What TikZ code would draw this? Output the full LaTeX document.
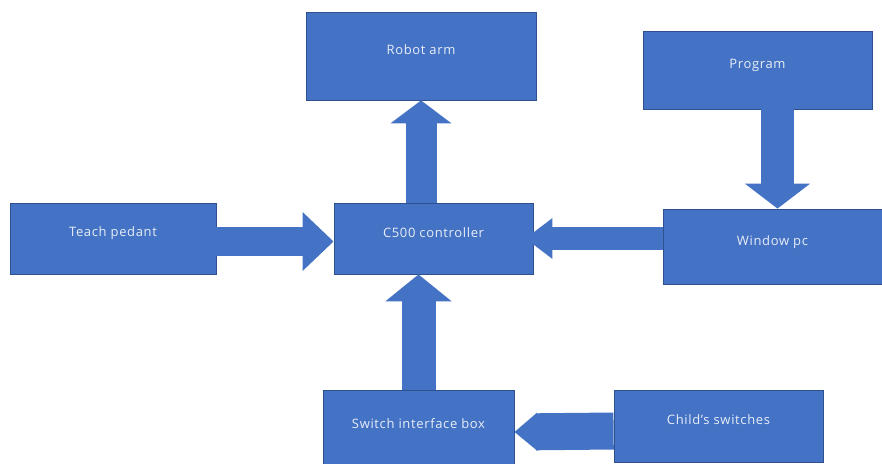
\documentclass[tikz,border=0pt]{standalone}
\usepackage{fontspec}
\setmainfont{Open Sans}[LetterSpace=5]
\usetikzlibrary{arrows.meta}
\definecolor{boxblue}{RGB}{68,114,196}
\definecolor{boxedge}{RGB}{47,82,143}
\definecolor{boxtext}{RGB}{232,238,248}
\tikzset{
    block/.style={draw=boxedge, line width=0.8pt, fill=boxblue, text=boxtext,
        font=\fontsize{13}{15}\selectfont, inner sep=0pt},
    flow/.style={boxblue, line width=#1}
}
\begin{document}
\begin{tikzpicture}[x=1pt,y=-1pt]
        \useasboundingbox (0,0) rectangle (882,463);
        % boxes
        \node [block, minimum width=230pt, minimum height=88pt] (arm) at (421,56) {};
        \node [block, minimum width=199pt, minimum height=71pt] (ctrl) at (433.5,238.5) {};
        \node [block, minimum width=229pt, minimum height=78pt] (prog) at (757.5,70) {};
        \node [block, minimum width=219pt, minimum height=75pt] (pc) at (772.5,246.5) {};
        \node [block, minimum width=206pt, minimum height=71pt] (teach) at (113,238.5) {};
        \node [block, minimum width=191pt, minimum height=74pt] (sib) at (418.5,427) {};
        \node [block, minimum width=209pt, minimum height=72pt] (child) at (718.5,426) {};
        % labels
        \node [block, draw=none] (armtxt) at (421,50) {Robot arm};
        \node [block, draw=none] (ctrltxt) at (433.5,233) {C500 controller};
        \node [block, draw=none] (progtxt) at (757.5,65) {Program};
        \node [block, draw=none] (pctxt) at (772.5,242) {Window pc};
        \node [block, draw=none] (teachtxt) at (113,233) {Teach pedant};
        \node [block, draw=none] (sibtxt) at (418.5,424) {Switch interface box};
        \node [block, draw=none] (childtxt) at (718.5,420) {Child’s switches};
        % block arrows
        \draw [flow=31pt, -{Triangle[width=60pt, length=23pt]}] (arm.south |- ctrl.north) -- (arm.south);
        \draw [flow=33pt, -{Triangle[width=64pt, length=25pt]}] ([xshift=20pt]prog.south) -- ([xshift=5pt]pc.north);
        \draw [flow=29pt, -{Triangle[width=57pt, length=31pt]}] ([yshift=-3pt]teach.east) -- ([yshift=-3pt]ctrl.west);
        \draw [flow=23pt, -{Triangle[width=39pt, length=27pt]}] (pc.west |- ctrl.east) -- ([xshift=-8pt]ctrl.east);
        \draw [flow=34pt, -{Triangle[width=65pt, length=27pt]}] (sib.north) -- (sib.north |- ctrl.south);
        \draw [flow=37pt, -{Triangle[width=37pt, length=23pt]}] ([yshift=-5pt]child.west) -- ([yshift=-5pt]sib.east);
    \end{tikzpicture}
\end{document}
